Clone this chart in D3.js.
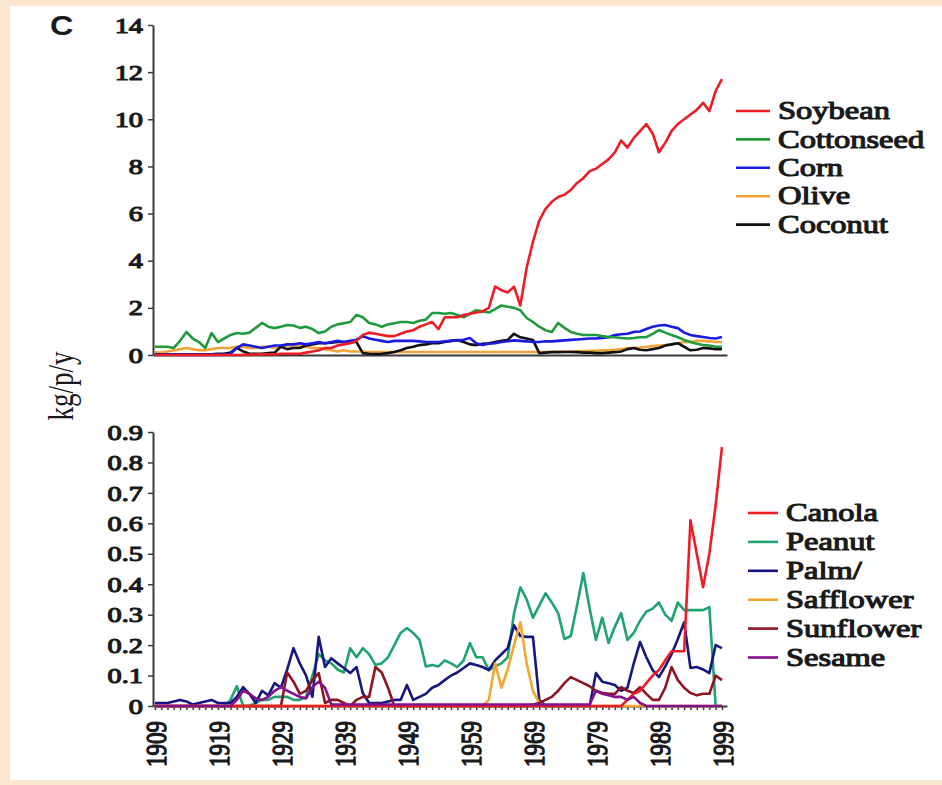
<!DOCTYPE html>
<html>
<head>
<meta charset="utf-8">
<script src="https://cdn.jsdelivr.net/npm/d3@7"></script>
<style>
  html, body { margin: 0; padding: 0; background: #fbe6cf; }
  svg { display: block; }
</style>
</head>
<body>
<svg id="chart"></svg>
<script>
const years = d3.range(1909, 2000);
const yearLabels = [1909, 1919, 1929, 1939, 1949, 1959, 1969, 1979, 1989, 1999];
const topTicks = [0, 2, 4, 6, 8, 10, 12, 14];
const bottomTicks = [0, 0.1, 0.2, 0.3, 0.4, 0.5, 0.6, 0.7, 0.8, 0.9];

// upper panel, kg per person per year
const soybean = [
  0,0,0,0,0,0,0,0,0,0,
  0,0,0,0,0,0.02,0.02,0.03,0.03,0.03,
  0.05,0.05,0.05,0.05,0.1,0.15,0.2,0.3,0.3,0.4,
  0.45,0.5,0.6,0.85,0.95,0.9,0.85,0.8,0.8,0.9,
  1.0,1.05,1.2,1.3,1.4,1.1,1.6,1.6,1.6,1.7,
  1.75,1.8,1.85,2.0,2.9,2.75,2.65,2.9,2.1,3.7,
  4.8,5.7,6.2,6.5,6.7,6.8,7.0,7.3,7.5,7.8,
  7.9,8.1,8.3,8.6,9.1,8.8,9.2,9.5,9.8,9.4,
  8.6,9.0,9.5,9.8,10.0,10.2,10.4,10.7,10.35,11.2,
  11.7];
const cottonseed = [
  0.35,0.35,0.35,0.3,0.6,0.98,0.7,0.55,0.3,0.93,
  0.55,0.7,0.85,0.93,0.9,0.95,1.15,1.36,1.2,1.14,
  1.2,1.27,1.25,1.15,1.2,1.1,0.93,1.0,1.2,1.3,
  1.35,1.4,1.7,1.6,1.36,1.3,1.2,1.3,1.35,1.4,
  1.4,1.36,1.45,1.5,1.78,1.78,1.75,1.78,1.7,1.6,
  1.75,1.9,1.85,1.8,1.95,2.1,2.05,2.0,1.9,1.57,
  1.4,1.2,1.05,0.98,1.36,1.15,0.98,0.9,0.85,0.85,
  0.85,0.8,0.76,0.75,0.72,0.7,0.72,0.75,0.76,0.9,
  1.06,0.95,0.85,0.75,0.64,0.55,0.48,0.42,0.4,0.35,
  0.35];
const corn = [
  0.02,0.02,0.02,0.02,0.02,0.02,0.02,0.02,0.02,0.02,
  0.02,0.02,0.05,0.3,0.45,0.4,0.35,0.3,0.35,0.4,
  0.4,0.45,0.45,0.5,0.45,0.5,0.55,0.5,0.55,0.6,
  0.55,0.6,0.65,0.8,0.7,0.65,0.6,0.55,0.6,0.6,
  0.6,0.6,0.58,0.55,0.55,0.55,0.58,0.6,0.62,0.65,
  0.72,0.5,0.42,0.48,0.5,0.55,0.58,0.62,0.6,0.58,
  0.55,0.55,0.58,0.58,0.6,0.62,0.64,0.66,0.68,0.7,
  0.7,0.72,0.75,0.85,0.88,0.9,0.98,1.0,1.1,1.2,
  1.25,1.27,1.2,1.14,0.95,0.85,0.8,0.76,0.72,0.7,
  0.76];
const olive = [
  0.1,0.1,0.15,0.2,0.25,0.3,0.25,0.2,0.2,0.25,
  0.3,0.3,0.3,0.35,0.35,0.3,0.3,0.35,0.35,0.3,
  0.35,0.4,0.42,0.4,0.35,0.3,0.3,0.25,0.2,0.15,
  0.2,0.15,0.15,0.15,0.13,0.12,0.12,0.13,0.13,0.13,
  0.13,0.13,0.13,0.13,0.13,0.13,0.13,0.13,0.13,0.13,
  0.13,0.13,0.13,0.13,0.13,0.13,0.13,0.13,0.13,0.13,
  0.13,0.13,0.13,0.14,0.14,0.15,0.15,0.16,0.17,0.18,
  0.18,0.2,0.2,0.22,0.25,0.28,0.3,0.32,0.35,0.38,
  0.4,0.42,0.45,0.5,0.55,0.55,0.6,0.6,0.58,0.55,
  0.55];
const coconut = [
  0.03,0.03,0.03,0.03,0.03,0.03,0.03,0.03,0.03,0.03,
  0.05,0.05,0.1,0.3,0.15,0.05,0.05,0.05,0.08,0.1,
  0.35,0.25,0.3,0.3,0.4,0.45,0.5,0.5,0.52,0.55,
  0.55,0.55,0.55,0.08,0.05,0.04,0.05,0.08,0.13,0.2,
  0.3,0.35,0.42,0.45,0.5,0.5,0.55,0.6,0.64,0.55,
  0.45,0.42,0.48,0.5,0.55,0.6,0.64,0.9,0.75,0.7,
  0.64,0.08,0.1,0.12,0.12,0.13,0.13,0.12,0.1,0.1,
  0.08,0.08,0.1,0.12,0.15,0.25,0.3,0.22,0.2,0.25,
  0.3,0.4,0.45,0.5,0.35,0.2,0.22,0.3,0.28,0.25,
  0.25];

// lower panel
const canola = [
  0,0,0,0,0,0,0,0,0,0,
  0,0,0,0,0,0,0,0,0,0,
  0,0,0,0,0,0,0,0,0,0,
  0,0,0,0,0,0,0,0,0,0,
  0,0,0,0,0,0,0,0,0,0,
  0,0,0,0,0,0,0,0,0,0,
  0,0,0,0,0,0,0,0,0,0,
  0,0,0,0,0,0.02,0.04,0.05,0.075,0.1,
  0.118,0.15,0.18,0.18,0.18,0.61,0.5,0.39,0.5,0.66,
  0.85];
const peanut = [
  0,0,0,0,0,0,0,0,0,0,
  0,0,0.02,0.065,0,0,0.01,0.02,0.02,0.03,
  0.03,0.03,0.02,0.02,0.03,0.1,0.17,0.15,0.14,0.12,
  0.11,0.19,0.16,0.19,0.17,0.135,0.14,0.16,0.2,0.24,
  0.256,0.24,0.217,0.13,0.135,0.13,0.15,0.14,0.128,0.15,
  0.207,0.16,0.16,0.118,0.13,0.14,0.16,0.305,0.39,0.35,
  0.29,0.33,0.37,0.34,0.305,0.22,0.23,0.33,0.437,0.32,
  0.217,0.29,0.207,0.26,0.305,0.217,0.24,0.28,0.31,0.32,
  0.34,0.3,0.28,0.34,0.315,0.315,0.315,0.315,0.325,0,
  0];
const palm = [
  0.01,0.01,0.01,0.015,0.02,0.015,0.005,0.01,0.015,0.02,
  0.01,0.01,0.01,0.03,0.062,0.04,0.01,0.05,0.035,0.075,
  0.06,0.12,0.19,0.14,0.1,0.03,0.227,0.128,0.157,0.14,
  0.125,0.108,0.128,0.042,0.01,0.01,0.01,0.015,0.02,0.02,
  0.069,0.02,0.03,0.04,0.06,0.069,0.085,0.1,0.11,0.125,
  0.14,0.135,0.128,0.118,0.15,0.17,0.19,0.265,0.23,0.227,
  0.227,0.02,0,0,0,0,0,0,0,0,
  0.108,0.08,0.075,0.069,0.05,0.06,0.14,0.21,0.16,0.118,
  0.095,0.13,0.17,0.22,0.275,0.125,0.128,0.12,0.108,0.2,
  0.19];
const safflower = [
  0,0,0,0,0,0,0,0,0,0,
  0,0,0,0,0,0,0,0,0,0,
  0,0,0,0,0,0,0,0,0,0,
  0,0,0,0,0,0,0,0,0,0,
  0,0,0,0,0,0,0,0,0,0,
  0,0,0,0.02,0.14,0.06,0.12,0.2,0.275,0.14,
  0.05,0.01,0,0,0,0,0,0,0,0,
  0,0,0,0,0,0,0,0,0,0,
  0,0,0,0,0,0,0,0,0,0,
  0];
const sunflower = [
  0,0,0,0,0,0,0,0,0,0,
  0,0,0,0,0,0,0,0,0,0,
  0,0.11,0.08,0.04,0.05,0.085,0.108,0.01,0.02,0.02,
  0.01,0,0.02,0.03,0.03,0.128,0.11,0.06,0,0,
  0,0,0,0,0,0,0,0,0,0,
  0,0,0,0,0,0,0,0,0,0,
  0.005,0.01,0.02,0.03,0.05,0.075,0.095,0.085,0.075,0.065,
  0.05,0.043,0.04,0.04,0.062,0.05,0.043,0.062,0.04,0.02,
  0.02,0.06,0.128,0.085,0.06,0.043,0.035,0.04,0.04,0.1,
  0.085];
const sesame = [
  0,0,0,0,0,0,0,0,0,0,
  0,0,0,0.02,0.05,0.04,0.025,0.02,0.03,0.05,
  0.062,0.05,0.04,0.03,0.025,0.062,0.08,0.06,0.005,0.005,
  0.005,0.005,0.005,0.005,0.005,0.005,0.005,0.005,0.005,0.005,
  0.005,0.005,0.005,0.005,0.005,0.005,0.005,0.005,0.005,0.005,
  0.005,0.005,0.005,0.005,0.005,0.005,0.005,0.005,0.005,0.005,
  0.005,0.005,0.005,0.005,0.005,0.005,0.005,0.005,0.005,0.005,
  0.05,0.04,0.035,0.03,0.03,0.02,0.03,0.01,0,0,
  0,0,0,0,0,0,0,0,0,0,
  0];

const topSeries = [
  { name: 'Soybean', values: soybean, color: '#ee1c25' },
  { name: 'Cottonseed', values: cottonseed, color: '#1f9a3c' },
  { name: 'Corn', values: corn, color: '#1a1ae0' },
  { name: 'Olive', values: olive, color: '#f0a436' },
  { name: 'Coconut', values: coconut, color: '#111111' }
];
const topDrawOrder = ['Olive', 'Coconut', 'Corn', 'Cottonseed', 'Soybean'];

const bottomSeries = [
  { name: 'Canola', values: canola, color: '#ee1c25' },
  { name: 'Peanut', values: peanut, color: '#1fa36f' },
  { name: 'Palm/', values: palm, color: '#161680' },
  { name: 'Safflower', values: safflower, color: '#f0a830' },
  { name: 'Sunflower', values: sunflower, color: '#8e1422' },
  { name: 'Sesame', values: sesame, color: '#85108c' }
];
const bottomDrawOrder = ['Peanut', 'Palm/', 'Safflower', 'Sunflower', 'Canola', 'Sesame'];

const width = 942, height = 785;
const serif = "'Liberation Serif', 'Times New Roman', Times, serif";
const stretch = 1.35; // the source figure is widened horizontally

const svg = d3.select('#chart').attr('width', width).attr('height', height);

// white panel inside the peach frame
svg.append('rect').attr('x', 10).attr('y', 6).attr('width', width - 10).attr('height', height - 11).attr('fill', '#fff');

const x = d3.scaleLinear().domain([1908.7, 1999.8]).range([153, 727]);
const yTop = d3.scaleLinear().domain([0, 14]).range([355, 25]);
const yBot = d3.scaleLinear().domain([0, 0.9]).range([706, 432]);

function styleAxis(g) {
  g.attr('font-family', serif);
  g.select('.domain').attr('stroke', '#3a3a3a').attr('stroke-width', 2);
  g.selectAll('.tick line').attr('stroke', '#3a3a3a').attr('stroke-width', 1.5);
}

// heavy serif: regular face thickened with a stroke of the same colour
function serifText(sel, size) {
  sel.style('font-family', serif)
    .style('font-weight', 'normal')
    .style('font-size', size + 'px')
    .attr('fill', '#1a1a1a')
    .attr('stroke', '#1a1a1a')
    .attr('stroke-width', 1.1)
    .attr('stroke-linejoin', 'round');
}

function yAxis(scale, ticks, fmt) {
  const g = svg.append('g')
    .attr('transform', 'translate(153,0)')
    .call(d3.axisLeft(scale).tickValues(ticks).tickFormat(fmt).tickSize(5).tickSizeOuter(0));
  styleAxis(g);
  g.selectAll('.tick text')
    .attr('x', -10 / stretch)
    .attr('dy', '0.34em')
    .attr('transform', `scale(${stretch},1)`)
    .call(serifText, 21);
}

yAxis(yTop, topTicks, d3.format('d'));
yAxis(yBot, bottomTicks, d => d === 0 ? '0' : d3.format('.1f')(d));

// top x baseline
const gTopX = svg.append('g')
  .attr('transform', `translate(0,${yTop(0)})`)
  .call(d3.axisBottom(x).tickValues([]).tickSizeOuter(0));
styleAxis(gTopX);

// bottom x axis with yearly ticks
const gBotX = svg.append('g')
  .attr('transform', `translate(0,${yBot(0)})`)
  .call(d3.axisBottom(x).tickValues(years).tickSize(4).tickSizeOuter(0)
    .tickFormat(d => yearLabels.includes(d) ? String(d) : ''));
styleAxis(gBotX);
gBotX.selectAll('.tick text')
  .attr('text-anchor', 'end')
  .attr('x', -15)
  .attr('y', 0)
  .attr('dy', '0.35em')
  .attr('transform', `scale(1.3,1) rotate(-90)`)
  .call(serifText, 23);

function drawLines(series, order, y) {
  const line = d3.line().x((d, i) => x(years[i])).y(d => y(d));
  const byName = new Map(series.map(s => [s.name, s]));
  svg.append('g')
    .selectAll('path')
    .data(order.map(n => byName.get(n)))
    .join('path')
    .attr('d', s => line(s.values))
    .attr('fill', 'none')
    .attr('stroke', s => s.color)
    .attr('stroke-width', 2.6)
    .attr('stroke-linejoin', 'round');
}

drawLines(topSeries, topDrawOrder, yTop);
drawLines(bottomSeries, bottomDrawOrder, yBot);

function legend(series, x0, y0, step, lineLen, gap) {
  const item = svg.append('g')
    .selectAll('g')
    .data(series)
    .join('g')
    .attr('transform', (_, i) => `translate(${x0},${y0 + i * step})`);
  item.append('line')
    .attr('x1', 0).attr('x2', lineLen)
    .attr('stroke', d => d.color)
    .attr('stroke-width', 2.6);
  item.append('text')
    .attr('transform', `translate(${lineLen + gap},0) scale(1.3,1)`)
    .attr('dy', '0.33em')
    .call(serifText, 25)
    .text(d => d.name);
}

legend(topSeries, 736, 111, 28.4, 34, 8);
legend(bottomSeries, 748, 513, 28.9, 30, 8);

// panel letter
svg.append('text')
  .attr('transform', 'translate(50,35) scale(1.2,1)')
  .style('font-family', "'Liberation Sans', Arial, sans-serif")
  .style('font-weight', 'bold')
  .style('font-size', '27px')
  .attr('fill', '#1a1a1a')
  .text('C');

// y axis title
svg.append('text')
  .attr('transform', 'translate(62,386) scale(1.3,1) rotate(-90)')
  .attr('text-anchor', 'middle')
  .attr('dy', '0.3em')
  .style('font-family', serif)
  .style('font-size', '27px')
  .attr('fill', '#1a1a1a')
  .text('kg/p/y');
</script>
</body>
</html>
